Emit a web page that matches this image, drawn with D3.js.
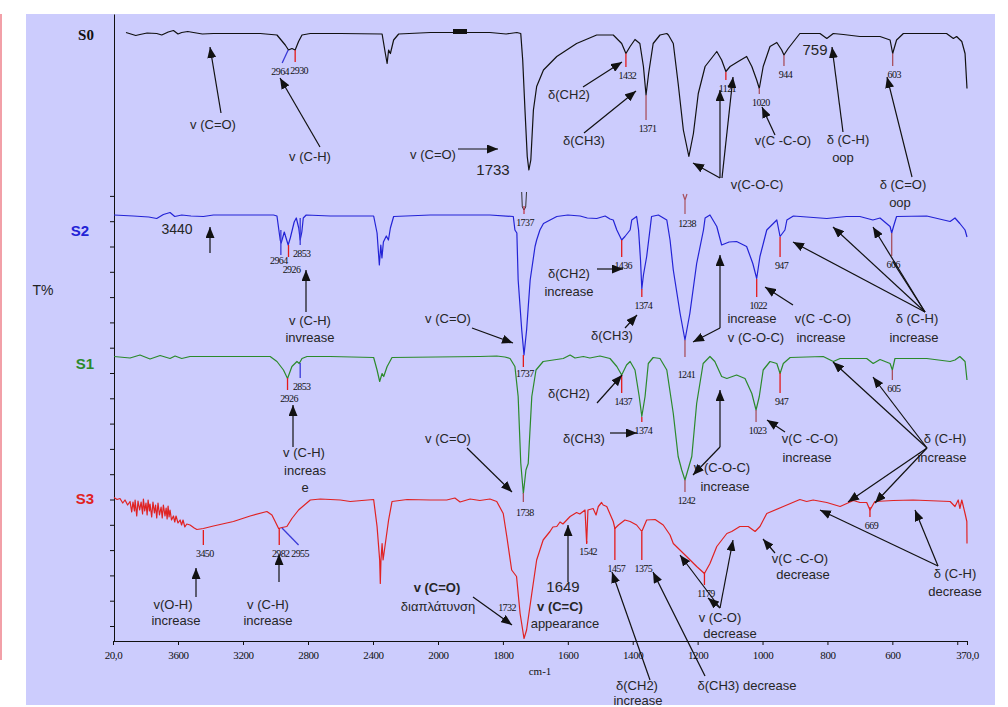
<!DOCTYPE html>
<html><head><meta charset="utf-8">
<script src="https://cdn.jsdelivr.net/npm/d3@7"></script>
<style>body{margin:0;background:#fff}svg{display:block}</style>
</head><body>
<svg id="c" width="1008" height="707"></svg>
<script>
// ---- data (wavenumber cm-1, stacked T% units) ----
const xTickValues=[4000,3600,3200,2800,2400,2000,1800,1600,1400,1200,1000,800,600,400,370];
const xTickLabels=["20,0","3600","3200","2800","2400","2000","1800","1600","1400","1200","1000","800","600","","370,0"];
const seriesNames=["S0","S2","S1","S3"];
const seriesColors=["#111111","#2323d6","#2b8a2b","#e02222"];

const S0=[[3920,121.7],[3860,121.1],[3834,121.3],[3790,121.6],[3731,121.5],[3700,121.2],[3660,121.8],[3628,122.1],[3600,121.4],[3577,121.7],[3540,121.9],[3505,121.7],[3450,121.4],[3382,121.5],[3261,121.5],[3094,121.5],[2991,121.2],[2940,119.2],[2920,118.2],[2899,118.5],[2879,118.2],[2858,119.9],[2837,121.2],[2786,121.5],[2601,121.5],[2344,121.4],[2324,117.5],[2313,115.5],[2304,118.2],[2293,117.5],[2273,120.2],[2242,121.4],[2047,121.7],[1840,121.7],[1790,121.4],[1757,121.7],[1745,121.5],[1739,116.2],[1732,106.2],[1725,96.9],[1720,94.2],[1714,96.2],[1706,106.2],[1696,110.9],[1675,114.2],[1634,116.9],[1573,119.5],[1511,121.2],[1460,121.2],[1434,119.5],[1421,117.5],[1408,118.9],[1393,120.3],[1378,119.5],[1367,114.9],[1359,109.2],[1351,113.5],[1337,119.5],[1316,121.2],[1295,121.5],[1290,121.2],[1275,119.5],[1260,111.5],[1244,102.2],[1227,96.9],[1213,101.5],[1198,109.5],[1177,114.9],[1141,117.9],[1126,116.2],[1113,113.9],[1100,114.9],[1075,115.9],[1049,116.9],[1033,114.9],[1018,112.2],[1010,110.5],[998,114.9],[977,118.9],[956,119.7],[941,118.2],[934,117.2],[921,118.5],[885,121.5],[823,121.5],[802,120.5],[782,121.5],[751,121.3],[700,120.9],[638,120.9],[607,120.2],[599,117.5],[587,120.2],[566,121.5],[433,121.5],[412,120.5],[402,120.9],[386,119.9],[376,117.5],[370,110.5]];

const S2=[[3994,85.2],[3875,85.0],[3780,84.8],[3731,84.5],[3690,85.3],[3649,85.7],[3620,84.9],[3577,85.2],[3520,85.0],[3444,84.9],[3382,85.2],[3012,85.2],[2991,85.0],[2971,80.2],[2965,79.6],[2946,81.8],[2922,79.2],[2909,80.6],[2885,83.8],[2872,84.6],[2857,82.6],[2848,80.2],[2838,81.8],[2829,84.6],[2811,85.2],[2663,85.0],[2396,85.0],[2375,81.6],[2361,75.2],[2352,79.2],[2345,76.6],[2336,79.8],[2318,81.0],[2305,80.2],[2293,82.6],[2273,84.9],[2047,85.2],[1840,85.2],[1768,84.9],[1763,82.2],[1757,81.6],[1753,72.2],[1742,62.2],[1735,57.2],[1727,62.2],[1716,72.2],[1701,78.9],[1696,80.2],[1686,82.2],[1675,83.5],[1634,84.9],[1600,85.2],[1562,85.0],[1540,84.6],[1511,84.5],[1485,85.0],[1470,84.4],[1460,84.2],[1449,82.2],[1434,80.2],[1424,80.9],[1408,82.2],[1403,84.2],[1388,84.9],[1382,82.2],[1376,76.2],[1372,70.4],[1367,73.2],[1357,76.9],[1347,82.2],[1342,84.9],[1321,85.2],[1295,84.2],[1285,80.2],[1275,74.2],[1254,65.5],[1239,60.2],[1224,65.5],[1203,75.5],[1182,82.2],[1177,84.6],[1162,85.2],[1141,82.9],[1126,79.2],[1103,79.8],[1080,79.9],[1049,78.9],[1030,75.5],[1018,72.5],[1008,76.9],[987,82.2],[956,84.2],[946,80.9],[931,82.2],[925,84.2],[905,85.0],[802,84.5],[741,84.9],[700,84.9],[660,84.2],[638,84.6],[607,82.9],[602,81.6],[596,83.0],[587,84.9],[494,85.0],[422,83.9],[407,84.6],[392,83.5],[376,82.2],[370,80.8]];

const S1=[[3994,56.9],[3895,56.6],[3834,57.2],[3772,56.4],[3710,57.1],[3649,56.5],[3618,57.0],[3577,56.5],[3526,56.9],[3402,56.9],[3033,56.9],[2991,55.9],[2951,54.2],[2926,52.5],[2899,54.9],[2868,55.9],[2854,55.5],[2837,56.5],[2806,56.9],[2663,56.9],[2396,56.7],[2375,54.2],[2359,51.9],[2344,53.5],[2334,52.9],[2313,54.9],[2283,56.7],[1871,56.9],[1819,57.0],[1794,56.8],[1778,56.5],[1763,54.9],[1753,48.9],[1745,35.6],[1737,29.5],[1729,34.2],[1722,35.5],[1711,48.9],[1698,54.2],[1676,55.9],[1614,56.5],[1593,57.2],[1578,56.6],[1552,56.9],[1532,56.6],[1501,57.0],[1470,56.5],[1449,54.9],[1434,53.2],[1419,55.2],[1408,55.9],[1393,54.2],[1380,48.9],[1372,44.9],[1362,48.9],[1352,55.5],[1337,56.7],[1316,56.5],[1295,54.2],[1275,45.5],[1260,36.9],[1249,34.2],[1239,32.2],[1230,34.2],[1218,36.9],[1203,47.5],[1183,55.5],[1162,56.9],[1147,55.9],[1126,52.9],[1110,52.5],[1080,53.2],[1054,52.5],[1033,49.5],[1020,46.2],[1010,48.9],[998,54.2],[977,55.9],[956,55.5],[946,53.5],[936,55.5],[915,56.7],[813,56.9],[782,55.9],[761,56.5],[679,56.5],[659,55.5],[638,56.3],[607,55.5],[600,54.2],[592,56.5],[494,56.5],[422,55.9],[407,56.2],[392,56.9],[376,55.9],[370,52.2]];

const S3=[[3994,28.7],[3975,28.3],[3957,28.5],[3940,27.6],[3926,28.2],[3910,27.2],[3895,27.9],[3885,25.8],[3877,27.8],[3868,26.0],[3864,28.2],[3854,25.0],[3846,28.0],[3836,26.2],[3827,27.8],[3818,25.4],[3813,28.4],[3805,26.0],[3797,27.6],[3790,25.2],[3784,28.2],[3776,26.0],[3772,27.4],[3762,24.8],[3754,27.8],[3745,25.6],[3738,27.2],[3731,24.6],[3723,27.6],[3714,25.2],[3704,26.8],[3697,24.6],[3690,27.2],[3680,25.0],[3673,26.6],[3667,24.4],[3661,27.0],[3655,24.8],[3649,26.2],[3640,24.2],[3628,25.0],[3620,23.8],[3612,25.0],[3600,23.6],[3587,24.2],[3578,23.2],[3569,24.2],[3558,22.8],[3546,23.4],[3526,23.2],[3500,22.6],[3484,22.3],[3444,22.5],[3382,23.0],[3259,23.9],[3156,25.0],[3053,25.9],[3022,25.2],[3002,23.9],[2981,22.5],[2960,22.7],[2930,22.9],[2899,24.5],[2858,26.2],[2786,28.2],[2724,28.4],[2601,28.2],[2540,27.9],[2396,28.3],[2375,22.9],[2359,16.2],[2355,11.5],[2351,16.2],[2344,19.5],[2338,16.2],[2324,19.5],[2304,24.2],[2283,27.9],[2190,28.3],[2047,28.2],[1973,28.2],[1948,28.6],[1932,27.8],[1901,28.4],[1871,28.1],[1840,28.4],[1819,27.9],[1799,25.5],[1788,20.9],[1773,14.2],[1758,12.9],[1747,5.5],[1735,0.5],[1727,2.2],[1711,9.5],[1696,16.2],[1676,20.2],[1655,21.9],[1646,22.8],[1634,22.9],[1624,23.8],[1615,23.4],[1593,24.9],[1573,25.7],[1563,25.4],[1547,26.2],[1542,19.5],[1538,26.2],[1522,26.5],[1513,25.2],[1506,26.9],[1496,27.7],[1491,27.2],[1480,26.9],[1460,23.9],[1455,22.5],[1444,23.2],[1424,24.2],[1408,23.9],[1388,23.2],[1372,21.9],[1357,24.2],[1331,24.3],[1306,23.2],[1285,21.2],[1275,19.5],[1234,16.9],[1203,14.9],[1179,13.5],[1162,15.5],[1141,18.9],[1110,21.5],[1095,21.9],[1070,22.9],[1044,22.9],[1023,21.9],[1008,22.9],[987,25.5],[936,26.9],[885,28.3],[864,27.9],[844,28.2],[802,27.7],[761,26.9],[720,28.1],[700,27.7],[679,27.7],[669,26.2],[654,27.9],[597,28.1],[536,28.2],[422,27.9],[407,26.9],[397,28.2],[392,26.5],[386,28.2],[376,25.5],[370.5,23.9],[370,19.5]];

const seriesData=[S0,S2,S1,S3];

// peak labels: [wn1, T1, wn2, T2, colourKey, label]
const peaksS0=[[2922,118.2,2959,115.6,"b","2964"],[2879,118.2,2879,115.8,"r","2930"],[1421,117.5,1421,114.8,"r","1432"],[1359,109.2,1359,104.2,"m","1371"],[1113,113.8,1113,112.2,"r","1121"],[1010,110.6,1010,109.4,"m","1020"],[934,117.2,934,115.0,"m","944"],[599,117.5,599,115.0,"m","603"]];
const peaksS2=[[2967,82.2,2967,77.2,"b","2964"],[2920,79.2,2920,76.8,"r","2926"],[2848,84.6,2848,79.2,"b","2853"],[1737,57.2,1737,54.8,"r","1737"],[1434,80.2,1434,76.8,"r","1436"],[1372,70.4,1372,68.8,"r","1374"],[1239,60.2,1239,56.8,"m","1241"],[1018,72.4,1018,68.8,"r","1022"],[946,80.8,946,76.8,"r","947"],[602,81.6,602,77.0,"m","606"]];
const peaksS1=[[2926,52.6,2926,50.2,"r","2926"],[2848,55.6,2848,52.6,"b","2853"],[1737,29.6,1737,27.8,"m","1738"],[1434,53.2,1434,49.6,"r","1437"],[1372,44.8,1372,43.8,"r","1374"],[1239,32.2,1239,29.8,"m","1242"],[1020,46.2,1020,43.8,"m","1023"],[946,53.6,946,49.6,"r","947"],[600,54.2,600,52.2,"m","605"]];
const peaksS3=[[3444,22.2,3444,19.2,"r","3450"],[2977,22.6,2977,19.2,"r","2982"],[2960,22.6,2858,19.2,"b","2955"],[1542,20.0,1542,19.5,"r","1542"],[1455,22.6,1455,16.2,"r","1457"],[1372,21.8,1372,16.2,"r","1375"],[1179,13.6,1179,11.2,"r","1179"],[669,26.8,669,24.8,"r","669"]];

// ---- layout ----
const W=1008,H=707;
const svg=d3.select("#c");
const x=d3.scaleLinear().domain([4000,2000,370]).range([113,438,967]);
const y=d3.scaleLinear().domain([0,125.4]).range([641,14]);
const yTickValues=d3.range(18).map(k=>3+5.06*k);
const markColor={r:"#e41a1a",m:"#a8505e",b:"#3a3ad8"};

svg.append("rect").attr("x",0).attr("y",0).attr("width",W).attr("height",H).attr("fill","#fff");
svg.append("rect").attr("x",26).attr("y",14).attr("width",969).attr("height",691).attr("fill","#ccccfd");
svg.append("line").attr("x1",1).attr("x2",1).attr("y1",14).attr("y2",660).attr("stroke","#f2a0a8").attr("stroke-width",2);

const defs=svg.append("defs");
defs.append("marker").attr("id","ah").attr("markerUnits","userSpaceOnUse")
 .attr("markerWidth",12).attr("markerHeight",9).attr("refX",11).attr("refY",4.5).attr("orient","auto")
 .append("path").attr("d","M0,0 L11,4.5 L0,9 Z").attr("fill","#111");

// axes
const gx=svg.append("g").attr("transform","translate(0,641)")
 .call(d3.axisBottom(x).tickValues(xTickValues).tickSize(4).tickSizeOuter(0).tickPadding(6)
 .tickFormat((d,i)=>xTickLabels[i]));
gx.selectAll("text").attr("font-family","'Liberation Serif',serif").attr("font-size",11).attr("letter-spacing","-0.4px").attr("fill","#111");
gx.selectAll("line,path").attr("stroke","#111");
const gy=svg.append("g").attr("transform","translate(114,0)")
 .call(d3.axisLeft(y).tickValues(yTickValues).tickSize(4).tickSizeOuter(0).tickFormat(""));
gy.selectAll("line,path").attr("stroke","#111");

svg.append("text").attr("x",540).attr("y",675).attr("text-anchor","middle")
 .attr("font-family","'Liberation Serif',serif").attr("font-size",11).attr("fill","#111").text("cm-1");
svg.append("text").attr("x",43).attr("y",295).attr("text-anchor","middle")
 .attr("font-family","'Liberation Sans',Arial,sans-serif").attr("font-size",14).attr("fill","#222").text("T%");

// spectra
const line=d3.line().x(d=>x(d[0])).y(d=>y(d[1]));
seriesData.forEach((s,i)=>{
  svg.append("path").attr("d",line(s)).attr("fill","none").attr("stroke",seriesColors[i]).attr("stroke-width",1.2).attr("stroke-linejoin","round");
});

// series labels
const labelPos=[[86,35],[80,231],[85,364],[85,499]];
seriesNames.forEach((n,i)=>{
  svg.append("text").attr("x",labelPos[i][0]).attr("y",labelPos[i][1]).attr("dy","0.35em").attr("text-anchor","middle")
   .attr("font-family",i===0?"'Liberation Serif',serif":"'Liberation Sans',Arial,sans-serif")
   .attr("font-weight","bold").attr("font-size",15).attr("fill",seriesColors[i]).text(n);
});

// small box on S0
svg.append("rect").attr("x",453).attr("y",29).attr("width",14).attr("height",5).attr("fill","#111");

// peak markers + labels
const labelDy={"S2_1241":17,"S1_1738":10,"S2_1737":6,"S2_2964":5,"S2_2926":12};
const labelDx={"S0_2964":-2,"S0_2930":4,"S2_2964":-2,"S2_2926":3};
[[peaksS0,"S0"],[peaksS2,"S2"],[peaksS1,"S1"],[peaksS3,"S3"]].forEach(([arr,name])=>{
  arr.forEach(p=>{
    svg.append("line").attr("x1",x(p[0])).attr("y1",y(p[1])).attr("x2",x(p[2])).attr("y2",y(p[3]))
      .attr("stroke",markColor[p[4]]).attr("stroke-width",1.3);
    const k=name+"_"+p[5];
    const dy=labelDy[k]||8;
    const dx=(k in labelDx)?labelDx[k]:1.5;
    svg.append("text").attr("x",x(p[2])+dx).attr("y",y(p[3])+dy).attr("dy","0.35em")
      .attr("text-anchor","middle").attr("font-family","'Liberation Serif',serif").attr("font-size",10)
      .attr("letter-spacing","-0.6px").attr("fill","#111").text(p[5]);
  });
});

// odd marker glyphs
svg.append("path").attr("d","M521.7,192 L522.3,207 L524,210 L525.7,207 L526.5,192").attr("fill","none").attr("stroke","#333").attr("stroke-width",1);
svg.append("line").attr("x1",524).attr("x2",524).attr("y1",206).attr("y2",214).attr("stroke","#c03040").attr("stroke-width",1.2);
svg.append("text").attr("x",525).attr("y",222).attr("dy","0.35em").attr("text-anchor","middle").attr("font-family","'Liberation Serif',serif").attr("font-size",10).attr("letter-spacing","-0.6px").attr("fill","#111").text("1737");
svg.append("path").attr("d","M683,194 L685,200 L687,194 M685,200 L685,214").attr("fill","none").attr("stroke","#a8505e").attr("stroke-width",1.2);
svg.append("text").attr("x",687).attr("y",223).attr("dy","0.35em").attr("text-anchor","middle").attr("font-family","'Liberation Serif',serif").attr("font-size",10).attr("letter-spacing","-0.6px").attr("fill","#111").text("1238");
svg.append("text").attr("x",507).attr("y",607).attr("dy","0.35em").attr("text-anchor","middle").attr("font-family","'Liberation Serif',serif").attr("font-size",10).attr("letter-spacing","-0.6px").attr("fill","#111").text("1732");

// annotation texts [text, x, y, size, bold]
const notes=[
 ["v (C=O)",213,124],["v (C-H)",310,156],["v (C=O)",433,154],["1733",493,170,15],
 ["δ(CH2)",569,94],["δ(CH3)",584,140],["v(C-O-C)",757,184],["v(C -C-O)",783,140],
 ["δ (C-H)",848,139],["oop",843,157],["759",815,50,15],["δ (C=O)",903,184],["oop",900,202],
 ["3440",177,229,14],["v (C-H)",310,320],["invrease",310,337],["v (C=O)",448,318],
 ["δ(CH2)",569,273],["increase",569,291],["δ(CH3)",612,335],["increase",752,318],["v (C-O-C)",756,337],
 ["v(C -C-O)",823,318],["increase",821,337],["δ (C-H)",917,318],["increase",914,337],
 ["v (C-H)",304,452],["increas",305,470],["e",305,487],["δ(CH2)",569,393],["δ(CH3)",584,438],
 ["v (C=O)",448,438],["v (C-O-C)",722,467],["increase",725,486],["v(C -C-O)",810,438],["increase",807,457],
 ["δ (C-H)",945,438],["increase",942,457],
 ["v(O-H)",173,604],["increase",176,620],["v (C-H)",268,604],["increase",268,620],
 ["v (C=O)",437,587,13,true],["διαπλάτυνση",438,606],["1649",563,587,15],["v (C=C)",560,606,13,true],["appearance",565,623],
 ["δ(CH2)",637,685],["increase",638,700],["δ(CH3) decrease",747,685],["v (C-O)",720,617],["decrease",730,633],
 ["v(C -C-O)",800,558],["decrease",803,574],["δ (C-H)",955,573],["decrease",955,591]
];
notes.forEach(n=>{
  svg.append("text").attr("x",n[1]).attr("y",n[2]).attr("dy","0.35em").attr("text-anchor","middle")
   .attr("font-family","'Liberation Sans',Arial,sans-serif").attr("font-size",n[3]||13)
   .attr("font-weight",n[4]?"bold":"normal").attr("fill","#262626").text(n[0]);
});

// arrows [x1,y1,x2,y2]
const arrows=[
 [221,113,210,47],[320,147,280,78],[458,149,498,149],[583,87,622,62],[584,133,636,91],
 [720,178,693,163],[720,178,720,90],[722,178,733,77],[775,135,762,107],[843,132,832,47],[912,177,887,77],
 [210,253,210,227],[306,312,306,270],[472,328,513,343],[597,269,623,269],[625,328,637,315],
 [720,328,693,342],[720,328,720,255],[793,305,765,287],[925,312,793,242],[925,312,833,227],[925,312,873,227],
 [293,447,293,405],[597,403,622,375],[610,433,637,433],[467,448,512,492],[720,447,693,475],[720,447,720,390],
 [785,432,767,420],[927,448,833,362],[927,448,873,377],[927,448,848,502],[927,448,875,503],
 [196,597,196,568],[279,582,279,554],[473,597,512,625],[568,582,568,525],[650,680,612,572],[705,676,653,572],
 [720,608,680,555],[720,608,708,598],[720,608,733,540],[775,553,763,539],[938,566,820,510],[938,566,915,510]
];
arrows.forEach(a=>{
  svg.append("line").attr("x1",a[0]).attr("y1",a[1]).attr("x2",a[2]).attr("y2",a[3])
   .attr("stroke","#111").attr("stroke-width",1.2).attr("marker-end","url(#ah)");
});
svg.append("line").attr("x1",925).attr("y1",312).attr("x2",893).attr("y2",262).attr("stroke","#111").attr("stroke-width",1.2);
</script>
</body></html>
